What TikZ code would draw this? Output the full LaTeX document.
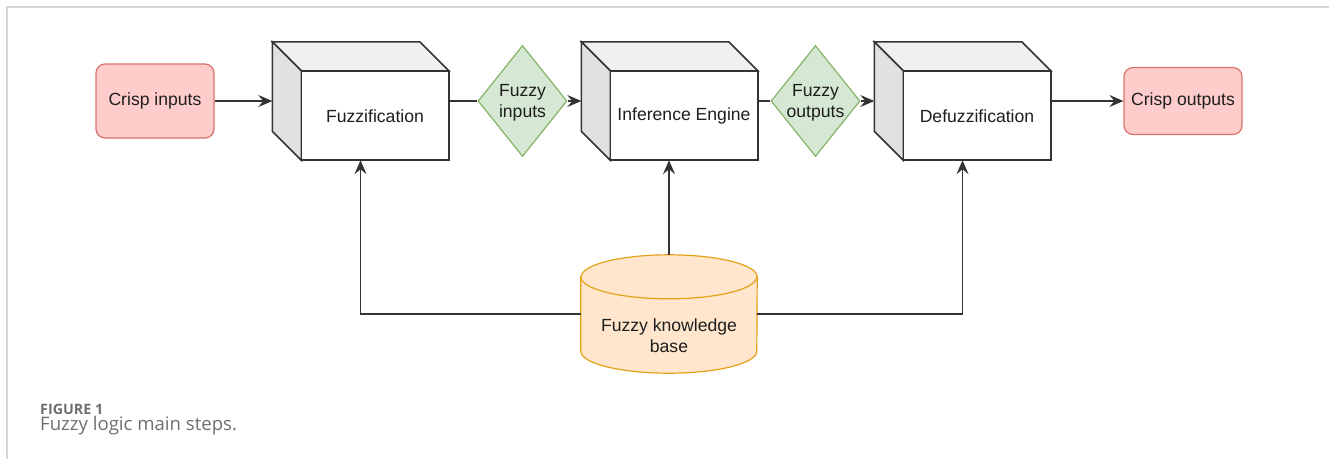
\documentclass[tikz,border=0pt]{standalone}
\usepackage{fontspec}
\setmainfont{Liberation Sans}
\newfontfamily\capfont{Open Sans}
\usetikzlibrary{arrows.meta,shapes.geometric,calc}
\definecolor{redfill}{HTML}{FFCCCC}
\definecolor{redline}{HTML}{D9716E}
\definecolor{greenfill}{HTML}{D5E8D4}
\definecolor{greenline}{HTML}{82B366}
\definecolor{orangefill}{HTML}{FFE6CC}
\definecolor{orangeline}{HTML}{E3A21A}
\definecolor{linegray}{HTML}{333333}
\definecolor{framegray}{HTML}{D6D6D6}
\definecolor{captiongray}{HTML}{6E6E6E}
\definecolor{topface}{HTML}{F0F0F0}
\definecolor{sideface}{HTML}{E1E1E1}
\definecolor{labeltext}{HTML}{1E1E1E}
\tikzset{
  lbl/.style={font=\fontsize{17.6}{21}\selectfont, text=labeltext},
  crisp/.style={lbl, rectangle, rounded corners=9pt, draw=redline, fill=redfill, line width=1.2pt, minimum width=118pt, inner sep=0pt},
  fuzzyset/.style={diamond, draw=greenline, fill=greenfill, line width=1.2pt, minimum width=89pt, minimum height=111pt, inner sep=0pt},
  cubebox/.style={rectangle, minimum width=176pt, minimum height=118pt, inner sep=0pt},
  cubeface/.style={draw=linegray, line width=1.6pt, line join=miter},
  plainline/.style={draw=linegray, line width=1.5pt},
  conn/.style={plainline, -{Stealth[length=14pt,width=12pt,inset=5pt]}},
  capstyle/.style={anchor=base west, text=captiongray, inner sep=0pt}
}
\newcommand\drawcube[2]{%
  \path[cubeface, fill=topface] (#1.north west) -- ($(#1.north east)-(29,0)$) -- ($(#1.north east)+(0,29)$) -- ($(#1.north west)+(29,29)$) -- cycle;
  \path[cubeface, fill=sideface] (#1.north west) -- ($(#1.north west)+(29,29)$) -- ($(#1.south west)+(29,0)$) -- ($(#1.south west)-(0,29)$) -- cycle;
  \path[cubeface, fill=white] ($(#1.north west)+(29,29)$) rectangle (#1.south east);
  \node[lbl] (#1-label) at ($(#1.center)+(14.5,15)$) {#2};
}
\begin{document}
\begin{tikzpicture}[x=1pt,y=-1pt]
\useasboundingbox (0,0) rectangle (1329,459);
\draw[framegray, line width=1.5pt] (1329,7) -- (7,7) -- (7,459);

\node[crisp, minimum height=74pt] (crispin) at (155,101) {Crisp inputs};
\node[cubebox] (fuzz) at (360.5,101) {};
\node[fuzzyset] (fin) at (522.5,101) {};
\node[lbl, align=center] (fin-label) at ($(fin.center)+(0,2)$) {Fuzzy\\inputs};
\node[cubebox] (inf) at (669.5,101) {};
\node[fuzzyset] (fout) at (815.5,101) {};
\node[lbl, align=center] (fout-label) at ($(fout.center)+(0,2)$) {Fuzzy\\outputs};
\node[cubebox] (defuzz) at (962.5,101) {};
\node[crisp, minimum height=67pt] (crispout) at (1183,101) {Crisp outputs};

\drawcube{fuzz}{Fuzzification}
\drawcube{inf}{Inference Engine}
\drawcube{defuzz}{Defuzzification}

\node[rectangle, minimum width=176pt, minimum height=118pt, inner sep=0pt] (kb) at (669,314) {};
\path[fill=orangefill, draw=orangeline, line width=1.2pt]
  ($(kb.north west)+(0,22)$) -- ($(kb.south west)-(0,22)$)
  arc[start angle=180, end angle=360, x radius=88pt, y radius=22pt]
  -- ($(kb.north east)+(0,22)$)
  arc[start angle=0, end angle=180, x radius=88pt, y radius=22pt] -- cycle;
\draw[orangeline, line width=1.2pt] ($(kb.north west)+(0,22)$) arc[start angle=180, end angle=360, x radius=88pt, y radius=22pt];
\node[lbl, align=center] (kb-label) at ($(kb.center)+(0,22)$) {Fuzzy knowledge\\base};

\draw[conn] (crispin.east |- fuzz.west) -- (fuzz.west);
\draw[plainline] (fuzz.east) -- (fin.west);
\draw[conn] (fin.east) -- (inf.west);
\draw[plainline] (inf.east) -- (fout.west);
\draw[conn] (fout.east) -- (defuzz.west);
\draw[conn] (defuzz.east) -- (crispout.west);
\draw[conn] (kb.north) -- (kb.north |- inf.south);
\draw[conn] (kb.west) -| (fuzz.south);
\draw[conn] (kb.east) -| (defuzz.south);

\node[capstyle, font=\capfont\bfseries\fontsize{14.3}{17}\selectfont] (figlabel) at (40,414) {FIGURE 1};
\node[capstyle, font=\capfont\fontsize{18.6}{22}\selectfont] (figcaption) at (40,430) {Fuzzy logic main steps.};
\end{tikzpicture}
\end{document}
